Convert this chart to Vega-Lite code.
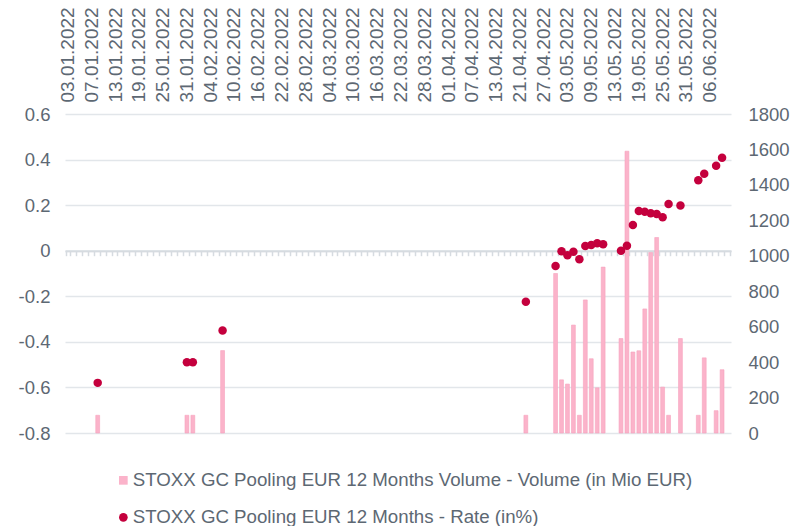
{
  "$schema": "https://vega.github.io/schema/vega-lite/v6.json",
  "width": 666,
  "height": 319,
  "autosize": {"type": "none"},
  "padding": {"left": 65, "top": 114, "right": 61, "bottom": 93},
  "background": "white",
  "config": {
    "view": {"stroke": null},
    "font": "Liberation Sans",
    "axis": {"labelFont": "Liberation Sans", "labelColor": "#5d6873", "labelFontSize": 18.5, "title": null},
    "legend": {"labelFont": "Liberation Sans", "labelColor": "#5d6873", "labelFontSize": 18.7, "labelLimit": 0}
  },
  "data": {
    "values": [
      {"date": "10.01.2022", "volume": 100, "rate": -0.58},
      {"date": "31.01.2022", "volume": 100, "rate": -0.49},
      {"date": "01.02.2022", "volume": 100, "rate": -0.49},
      {"date": "08.02.2022", "volume": 465, "rate": -0.35},
      {"date": "22.04.2022", "volume": 100, "rate": -0.224},
      {"date": "29.04.2022", "volume": 900, "rate": -0.067},
      {"date": "02.05.2022", "volume": 300, "rate": -0.002},
      {"date": "03.05.2022", "volume": 276, "rate": -0.02},
      {"date": "04.05.2022", "volume": 609, "rate": -0.005},
      {"date": "05.05.2022", "volume": 100, "rate": -0.037},
      {"date": "06.05.2022", "volume": 751, "rate": 0.021},
      {"date": "09.05.2022", "volume": 419, "rate": 0.025},
      {"date": "10.05.2022", "volume": 255, "rate": 0.033},
      {"date": "11.05.2022", "volume": 936, "rate": 0.028},
      {"date": "16.05.2022", "volume": 533, "rate": 0.0},
      {"date": "17.05.2022", "volume": 1590, "rate": 0.022},
      {"date": "18.05.2022", "volume": 457, "rate": 0.113},
      {"date": "19.05.2022", "volume": 464, "rate": 0.174},
      {"date": "20.05.2022", "volume": 700, "rate": 0.171},
      {"date": "23.05.2022", "volume": 1018, "rate": 0.164},
      {"date": "24.05.2022", "volume": 1103, "rate": 0.161},
      {"date": "25.05.2022", "volume": 259, "rate": 0.147},
      {"date": "26.05.2022", "volume": 100, "rate": 0.205},
      {"date": "30.05.2022", "volume": 533, "rate": 0.198},
      {"date": "02.06.2022", "volume": 100, "rate": 0.309},
      {"date": "03.06.2022", "volume": 424, "rate": 0.338},
      {"date": "07.06.2022", "volume": 126, "rate": 0.373},
      {"date": "08.06.2022", "volume": 357, "rate": 0.408}
    ]
  },
  "resolve": {"scale": {"x": "independent", "y": "independent"}, "axis": {"x": "independent", "y": "independent"}},
  "layer": [
    {
      "mark": {"type": "bar", "fill": "#fbb3ca", "stroke": "#f7a2be", "strokeWidth": 0.6},
      "encoding": {
        "x": {
          "field": "date", "type": "ordinal",
          "scale": {"paddingInner": 0.35, "paddingOuter": 0.175, "domain": ["03.01.2022","04.01.2022","05.01.2022","06.01.2022","07.01.2022","10.01.2022","11.01.2022","12.01.2022","13.01.2022","14.01.2022","17.01.2022","18.01.2022","19.01.2022","20.01.2022","21.01.2022","24.01.2022","25.01.2022","26.01.2022","27.01.2022","28.01.2022","31.01.2022","01.02.2022","02.02.2022","03.02.2022","04.02.2022","07.02.2022","08.02.2022","09.02.2022","10.02.2022","11.02.2022","14.02.2022","15.02.2022","16.02.2022","17.02.2022","18.02.2022","21.02.2022","22.02.2022","23.02.2022","24.02.2022","25.02.2022","28.02.2022","01.03.2022","02.03.2022","03.03.2022","04.03.2022","07.03.2022","08.03.2022","09.03.2022","10.03.2022","11.03.2022","14.03.2022","15.03.2022","16.03.2022","17.03.2022","18.03.2022","21.03.2022","22.03.2022","23.03.2022","24.03.2022","25.03.2022","28.03.2022","29.03.2022","30.03.2022","31.03.2022","01.04.2022","04.04.2022","05.04.2022","06.04.2022","07.04.2022","08.04.2022","11.04.2022","12.04.2022","13.04.2022","14.04.2022","19.04.2022","20.04.2022","21.04.2022","22.04.2022","25.04.2022","26.04.2022","27.04.2022","28.04.2022","29.04.2022","02.05.2022","03.05.2022","04.05.2022","05.05.2022","06.05.2022","09.05.2022","10.05.2022","11.05.2022","12.05.2022","13.05.2022","16.05.2022","17.05.2022","18.05.2022","19.05.2022","20.05.2022","23.05.2022","24.05.2022","25.05.2022","26.05.2022","27.05.2022","30.05.2022","31.05.2022","01.06.2022","02.06.2022","03.06.2022","06.06.2022","07.06.2022","08.06.2022","09.06.2022"]},
          "axis": {"orient": "top", "values": ["03.01.2022","07.01.2022","13.01.2022","19.01.2022","25.01.2022","31.01.2022","04.02.2022","10.02.2022","16.02.2022","22.02.2022","28.02.2022","04.03.2022","10.03.2022","16.03.2022","22.03.2022","28.03.2022","01.04.2022","07.04.2022","13.04.2022","21.04.2022","27.04.2022","03.05.2022","09.05.2022","13.05.2022","19.05.2022","25.05.2022","31.05.2022","06.06.2022"], "labelAngle": -90, "labelFontSize": 19, "ticks": false, "domain": false, "grid": false, "labelPadding": 12, "labelOverlap": false}
        },
        "y": {
          "field": "volume", "type": "quantitative",
          "scale": {"domain": [0, 1800], "nice": false},
          "axis": {"orient": "right", "values": [0, 200, 400, 600, 800, 1000, 1200, 1400, 1600, 1800], "format": "d", "grid": false, "ticks": false, "domain": false, "labelPadding": 17}
        }
      }
    },
    {
      "mark": {"type": "point", "filled": true, "size": 72, "opacity": 1},
      "encoding": {
        "x": {
          "field": "date", "type": "ordinal",
          "scale": {"type": "band", "paddingInner": 0.35, "paddingOuter": 0.175, "domain": ["03.01.2022","04.01.2022","05.01.2022","06.01.2022","07.01.2022","10.01.2022","11.01.2022","12.01.2022","13.01.2022","14.01.2022","17.01.2022","18.01.2022","19.01.2022","20.01.2022","21.01.2022","24.01.2022","25.01.2022","26.01.2022","27.01.2022","28.01.2022","31.01.2022","01.02.2022","02.02.2022","03.02.2022","04.02.2022","07.02.2022","08.02.2022","09.02.2022","10.02.2022","11.02.2022","14.02.2022","15.02.2022","16.02.2022","17.02.2022","18.02.2022","21.02.2022","22.02.2022","23.02.2022","24.02.2022","25.02.2022","28.02.2022","01.03.2022","02.03.2022","03.03.2022","04.03.2022","07.03.2022","08.03.2022","09.03.2022","10.03.2022","11.03.2022","14.03.2022","15.03.2022","16.03.2022","17.03.2022","18.03.2022","21.03.2022","22.03.2022","23.03.2022","24.03.2022","25.03.2022","28.03.2022","29.03.2022","30.03.2022","31.03.2022","01.04.2022","04.04.2022","05.04.2022","06.04.2022","07.04.2022","08.04.2022","11.04.2022","12.04.2022","13.04.2022","14.04.2022","19.04.2022","20.04.2022","21.04.2022","22.04.2022","25.04.2022","26.04.2022","27.04.2022","28.04.2022","29.04.2022","02.05.2022","03.05.2022","04.05.2022","05.05.2022","06.05.2022","09.05.2022","10.05.2022","11.05.2022","12.05.2022","13.05.2022","16.05.2022","17.05.2022","18.05.2022","19.05.2022","20.05.2022","23.05.2022","24.05.2022","25.05.2022","26.05.2022","27.05.2022","30.05.2022","31.05.2022","01.06.2022","02.06.2022","03.06.2022","06.06.2022","07.06.2022","08.06.2022","09.06.2022"]},
          "axis": {"orient": "bottom", "offset": -182.3, "labels": false, "grid": false, "domainColor": "#d6dbe0", "domainWidth": 2, "tickColor": "#d6dbe0", "tickWidth": 1.5, "tickSize": 5, "tickBand": "extent"}
        },
        "y": {
          "field": "rate", "type": "quantitative",
          "scale": {"domain": [-0.8, 0.6], "nice": false, "zero": false},
          "axis": {"orient": "left", "values": [-0.8, -0.6, -0.4, -0.2, 0, 0.2, 0.4, 0.6], "labelExpr": "datum.value == 0 ? '0' : (datum.value < 0 ? '-' + format(-datum.value, '.1f') : format(datum.value, '.1f'))", "grid": true, "gridColor": "#e2e6ea", "gridWidth": 1.5, "ticks": false, "domain": false, "labelPadding": 15}
        },
        "color": {
          "datum": "STOXX GC Pooling EUR 12 Months - Rate (in%)", "type": "nominal",
          "scale": {"domain": ["STOXX GC Pooling EUR 12 Months Volume - Volume (in Mio EUR)", "STOXX GC Pooling EUR 12 Months - Rate (in%)"], "range": ["#fbb3ca", "#c4003d"]},
          "legend": {"title": null, "orient": "none", "legendX": 49, "legendY": 357, "direction": "vertical", "rowPadding": 17, "symbolSize": 75, "labelOffset": 0, "labelLimit": 0}
        },
        "shape": {
          "datum": "STOXX GC Pooling EUR 12 Months - Rate (in%)", "type": "nominal",
          "scale": {"domain": ["STOXX GC Pooling EUR 12 Months Volume - Volume (in Mio EUR)", "STOXX GC Pooling EUR 12 Months - Rate (in%)"], "range": ["square", "circle"]},
          "legend": {"title": null, "orient": "none", "legendX": 49, "legendY": 357, "direction": "vertical", "rowPadding": 17, "symbolSize": 75, "labelOffset": 0, "labelLimit": 0}
        }
      }
    }
  ]
}
